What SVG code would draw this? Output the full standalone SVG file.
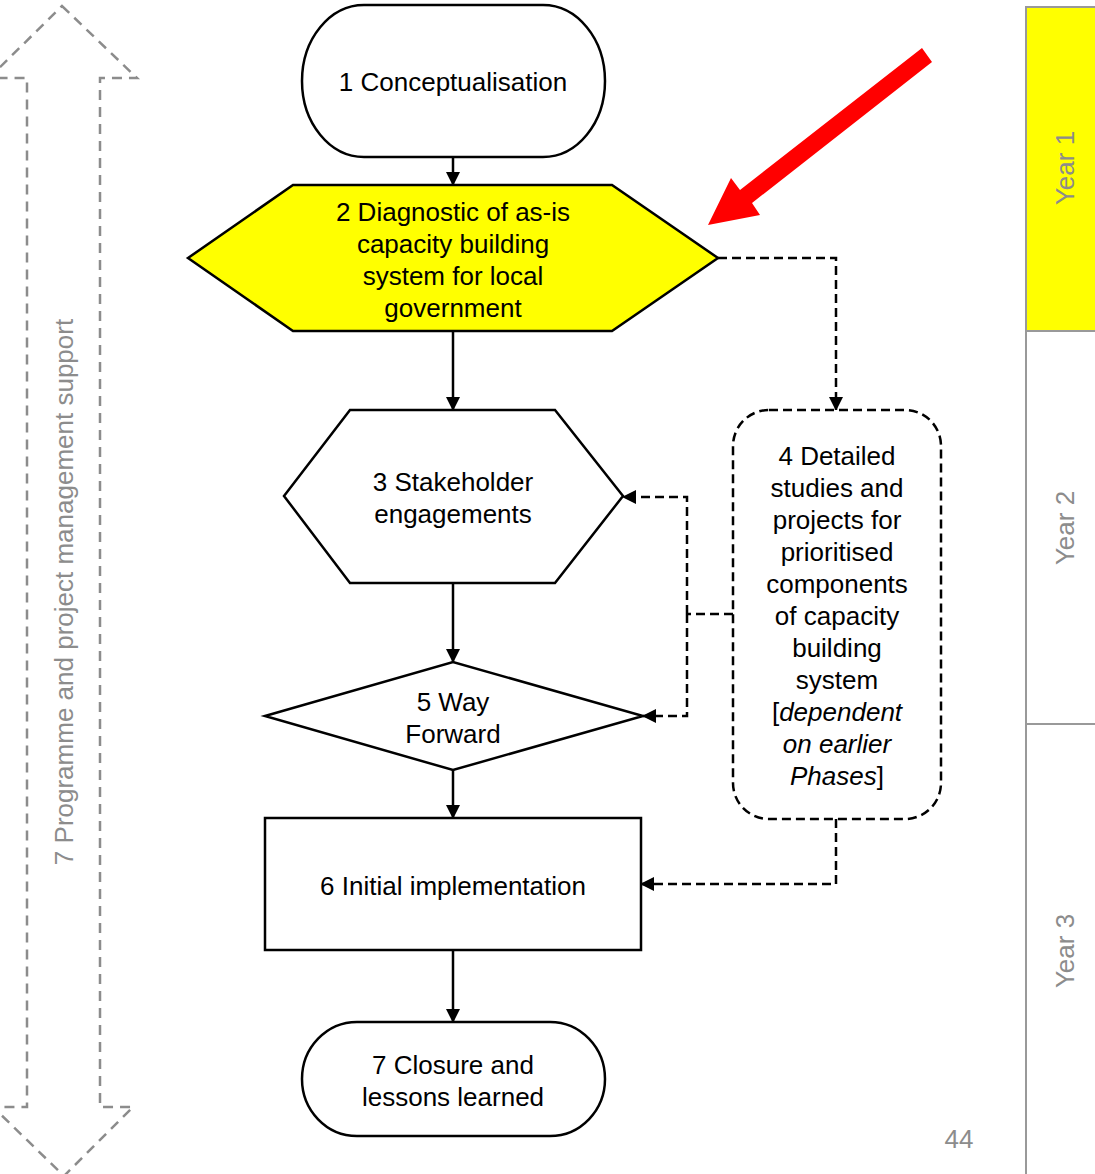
<svg xmlns="http://www.w3.org/2000/svg" width="1095" height="1174" viewBox="0 0 1095 1174">
<style>
.t{font-family:"Liberation Sans",Arial,sans-serif;font-size:26px;fill:#000;text-anchor:middle}
.g{font-family:"Liberation Sans",Arial,sans-serif;font-size:26px;fill:#8c8c8c;text-anchor:middle}
.n{fill:#fff;stroke:#000;stroke-width:2.5}
.c{fill:none;stroke:#000;stroke-width:2.5}
.d{fill:none;stroke:#000;stroke-width:2.5;stroke-dasharray:9,5}
</style>
<defs>
<marker id="ah" markerWidth="14" markerHeight="14" refX="13" refY="7" orient="auto" markerUnits="userSpaceOnUse">
<path d="M0,0 L14,7 L0,14 z" fill="#000"/>
</marker>
</defs>
<rect width="1095" height="1174" fill="#fff"/>
<g id="years">
<rect x="1026" y="7" width="70" height="324" fill="#ffff00"/>
<path d="M1026,1174 V7 H1095 M1026,331 H1095 M1026,724 H1095" fill="none" stroke="#999" stroke-width="2"/>
<text class="g" transform="translate(1074,168) rotate(-90)">Year 1</text>
<text class="g" transform="translate(1074,528) rotate(-90)">Year 2</text>
<text class="g" transform="translate(1074,951) rotate(-90)">Year 3</text>
<text class="g" x="959" y="1148">44</text>
</g>
<g id="support">
<path d="M62,6 L137,78 H100 V1107 H133 L64,1176 L-7,1107 H27 V78 H-11 Z" fill="none" stroke="#8c8c8c" stroke-width="2.5" stroke-dasharray="10,7"/>
<text class="g" transform="translate(73,592) rotate(-90)">7 Programme and project management support</text>
</g>
<g id="redarrow">
<polygon points="922,48 932,62 752,203 760,215 708,225 731,178 740,190" fill="#ff0000"/>
</g>
<g id="connectors">
<line class="c" x1="453" y1="157" x2="453" y2="185" marker-end="url(#ah)"/>
<line class="c" x1="453" y1="331" x2="453" y2="410" marker-end="url(#ah)"/>
<line class="c" x1="453" y1="583" x2="453" y2="662" marker-end="url(#ah)"/>
<line class="c" x1="453" y1="770" x2="453" y2="818" marker-end="url(#ah)"/>
<line class="c" x1="453" y1="950" x2="453" y2="1022" marker-end="url(#ah)"/>
<path class="d" d="M718,258 H836 V410" marker-end="url(#ah)"/>
<path class="d" d="M733,614 H687"/>
<path class="d" d="M687,614 V497 H623" marker-end="url(#ah)"/>
<path class="d" d="M687,614 V716 H643" marker-end="url(#ah)"/>
<path class="d" d="M836,819 V884 H641" marker-end="url(#ah)"/>
</g>
<g id="n1">
<rect class="n" x="302" y="5" width="303" height="152" rx="62" ry="76"/>
<text class="t" x="453" y="91">1 Conceptualisation</text>
</g>
<g id="n2">
<polygon class="n" style="fill:#ffff00" points="188,258 293,185 612,185 718,258 612,331 293,331"/>
<text class="t" x="453" y="221">2 Diagnostic of as-is</text>
<text class="t" x="453" y="253">capacity building</text>
<text class="t" x="453" y="285">system for local</text>
<text class="t" x="453" y="317">government</text>
</g>
<g id="n3">
<polygon class="n" points="284,496 350,410 555,410 623,496 555,583 350,583"/>
<text class="t" x="453" y="491">3 Stakeholder</text>
<text class="t" x="453" y="523">engagements</text>
</g>
<g id="n4">
<rect class="d" x="733" y="410" width="208" height="409" rx="36" ry="36" style="fill:#fff"/>
<text class="t" x="837" y="465">4 Detailed</text>
<text class="t" x="837" y="497">studies and</text>
<text class="t" x="837" y="529">projects for</text>
<text class="t" x="837" y="561">prioritised</text>
<text class="t" x="837" y="593">components</text>
<text class="t" x="837" y="625">of capacity</text>
<text class="t" x="837" y="657">building</text>
<text class="t" x="837" y="689">system</text>
<text class="t" x="837" y="721">[<tspan font-style="italic">dependent</tspan></text>
<text class="t" x="837" y="753" font-style="italic">on earlier</text>
<text class="t" x="837" y="785"><tspan font-style="italic">Phases</tspan>]</text>
</g>
<g id="n5">
<polygon class="n" points="265,716 453,662 643,716 453,770"/>
<text class="t" x="453" y="711">5 Way</text>
<text class="t" x="453" y="743">Forward</text>
</g>
<g id="n6">
<rect class="n" x="265" y="818" width="376" height="132"/>
<text class="t" x="453" y="895">6 Initial implementation</text>
</g>
<g id="n7">
<rect class="n" x="302" y="1022" width="303" height="114" rx="55" ry="57"/>
<text class="t" x="453" y="1074">7 Closure and</text>
<text class="t" x="453" y="1106">lessons learned</text>
</g>
</svg>
